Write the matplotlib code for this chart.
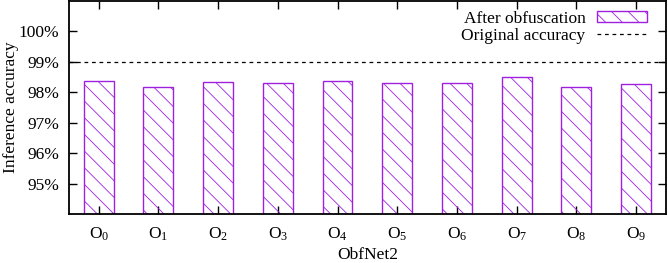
import numpy as np
import matplotlib
matplotlib.use("Agg")
import matplotlib.pyplot as plt

# Plot appearance (gnuplot-like look)
plt.rcParams.update({
    'font.family': 'Liberation Serif',
    'mathtext.fontset': 'custom',
    'mathtext.rm': 'Liberation Serif',
    'mathtext.it': 'Liberation Serif:italic',
    'font.size': 12.5,
    'hatch.linewidth': 0.6,
    'hatch.color': '#b040e8',
})

# Data
models = ['O$_{0}$', 'O$_{1}$', 'O$_{2}$', 'O$_{3}$', 'O$_{4}$',
          'O$_{5}$', 'O$_{6}$', 'O$_{7}$', 'O$_{8}$', 'O$_{9}$']
after_obf = [98.36, 98.17, 98.33, 98.29, 98.35, 98.29, 98.30, 98.50, 98.16, 98.26]
original_acc = 99.0
yticks = [95, 96, 97, 98, 99, 100]

bar_color = '#a020e0'

fig = plt.figure(figsize=(6.68, 2.63), dpi=100)
ax = fig.add_axes([0.103, 0.186, 0.894, 0.812])

x = np.arange(len(models))
bars = ax.bar(x, after_obf, width=0.5, bottom=0, facecolor='none', edgecolor=bar_color,
              hatch='\\\\', linewidth=1.0, label='After obfuscation', zorder=2)
line = ax.axhline(original_acc, color='black', linestyle=(0, (3, 3)), linewidth=0.9,
                  label='Original accuracy', zorder=1)

ax.set_xlim(-0.5, 9.5)
ax.set_ylim(94, 101)
ax.set_xticks(x)
ax.set_xticklabels(models)
ax.set_yticks(yticks)
ax.set_yticklabels([f"{v}%" for v in yticks])

ax.tick_params(direction='in', length=6, width=1.0, top=True, right=True, pad=8)
ax.tick_params(axis='y', pad=7)
for sp in ax.spines.values():
    sp.set_linewidth(1.3)

ax.set_xlabel('ObfNet2', labelpad=3)
ax.set_ylabel('Inference accuracy')
ax.yaxis.set_label_coords(-0.083, 0.5)

leg = ax.legend([bars, line], ['After obfuscation', 'Original accuracy'],
                loc='upper right', bbox_to_anchor=(0.986, 1.0),
                markerfirst=False, frameon=False,
                handlelength=2.9, handleheight=0.6, handletextpad=0.65,
                labelspacing=0.05, borderaxespad=0.2, fontsize=12.5)

fig.savefig('out.png', dpi=100)
